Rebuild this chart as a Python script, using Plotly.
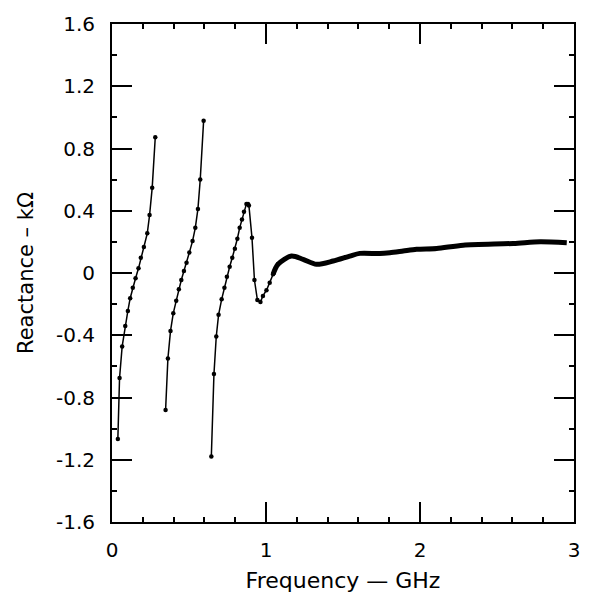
import plotly.graph_objects as go

# Branch 1 (GHz, kOhm)
f1 = [0.038, 0.049, 0.066, 0.086, 0.103, 0.118, 0.135, 0.153, 0.172, 0.187, 0.207, 0.229, 0.244, 0.261, 0.281]
x1 = [-1.066, -0.675, -0.472, -0.340, -0.244, -0.162, -0.094, -0.034, 0.030, 0.098, 0.167, 0.255, 0.372, 0.547, 0.872]

# Branch 2
f2 = [0.348, 0.363, 0.380, 0.398, 0.417, 0.434, 0.450, 0.467, 0.484, 0.502, 0.523, 0.541, 0.558, 0.573, 0.595]
x2 = [-0.880, -0.549, -0.372, -0.258, -0.179, -0.104, -0.045, 0.013, 0.066, 0.131, 0.205, 0.290, 0.412, 0.601, 0.979]

# Branch 3 (sampled points)
f3 = [0.645, 0.662, 0.677, 0.692, 0.712, 0.730, 0.746, 0.764, 0.781, 0.798, 0.814, 0.829, 0.844, 0.857,
      0.873, 0.883, 0.889, 0.909, 0.925, 0.944, 0.964, 0.980, 1.003, 1.024, 1.046, 1.078]
x3 = [-1.179, -0.649, -0.408, -0.269, -0.169, -0.094, -0.024, 0.040, 0.098, 0.156, 0.220, 0.290, 0.344, 0.393,
      0.444, 0.444, 0.434, 0.226, -0.045, -0.173, -0.186, -0.147, -0.111, -0.062, -0.008, 0.056]

# Branch 3 continued (densely sampled, drawn as a heavy trace)
f4 = [1.046, 1.078, 1.165, 1.241, 1.328, 1.436, 1.544, 1.609, 1.739, 1.804, 1.891, 1.978, 2.108,
      2.281, 2.606, 2.780, 2.953]
x4 = [-0.008, 0.056, 0.109, 0.088, 0.056, 0.077, 0.109, 0.126, 0.125, 0.130, 0.141, 0.152, 0.158,
      0.179, 0.190, 0.201, 0.194]

ytick_vals = [1.6, 1.2, 0.8, 0.4, 0, -0.4, -0.8, -1.2, -1.6]
ytick_text = ["1.6", "1.2", "0.8", "0.4", "0", "-0.4", "-0.8", "-1.2", "-1.6"]
xtick_vals = [0, 1, 2, 3]
xtick_text = ["0", "1", "2", "3"]

FONT = "DejaVu Sans"

fig = go.Figure()
for f, x in [(f1, x1), (f2, x2), (f3, x3)]:
    fig.add_trace(go.Scatter(x=f, y=x, mode="lines+markers",
                             line=dict(color="black", width=1.5),
                             marker=dict(color="black", size=4.5),
                             showlegend=False))
fig.add_trace(go.Scatter(x=f4, y=x4, mode="lines",
                         line=dict(color="black", width=5, shape="spline", smoothing=0.8),
                         showlegend=False))

axis_common = dict(
    showgrid=False, zeroline=False, showline=True, linecolor="black", linewidth=2,
    mirror="ticks", ticks="inside", ticklen=20, tickwidth=2, tickcolor="black",
    tickfont=dict(family=FONT, size=20, color="black"),
)

fig.update_xaxes(range=[0, 3], tickvals=xtick_vals, ticktext=xtick_text,
                 minor=dict(dtick=0.2, ticks="inside", ticklen=5, tickwidth=1.5, tickcolor="black"),
                 title=dict(text="Frequency — GHz", font=dict(family=FONT, size=22, color="black"), standoff=12),
                 ticklabelstandoff=9,
                 **axis_common)
fig.update_yaxes(range=[-1.6, 1.6], tickvals=ytick_vals, ticktext=ytick_text,
                 minor=dict(dtick=0.2, ticks="inside", ticklen=5, tickwidth=1.5, tickcolor="black"),
                 title=dict(text="Reactance – kΩ", font=dict(family=FONT, size=21, color="black"), standoff=17),
                 ticklabelstandoff=11,
                 **axis_common)

fig.update_layout(width=594, height=604, margin=dict(l=112, r=20, t=22, b=82),
                  plot_bgcolor="white", paper_bgcolor="white")

fig.write_html("out.html")
